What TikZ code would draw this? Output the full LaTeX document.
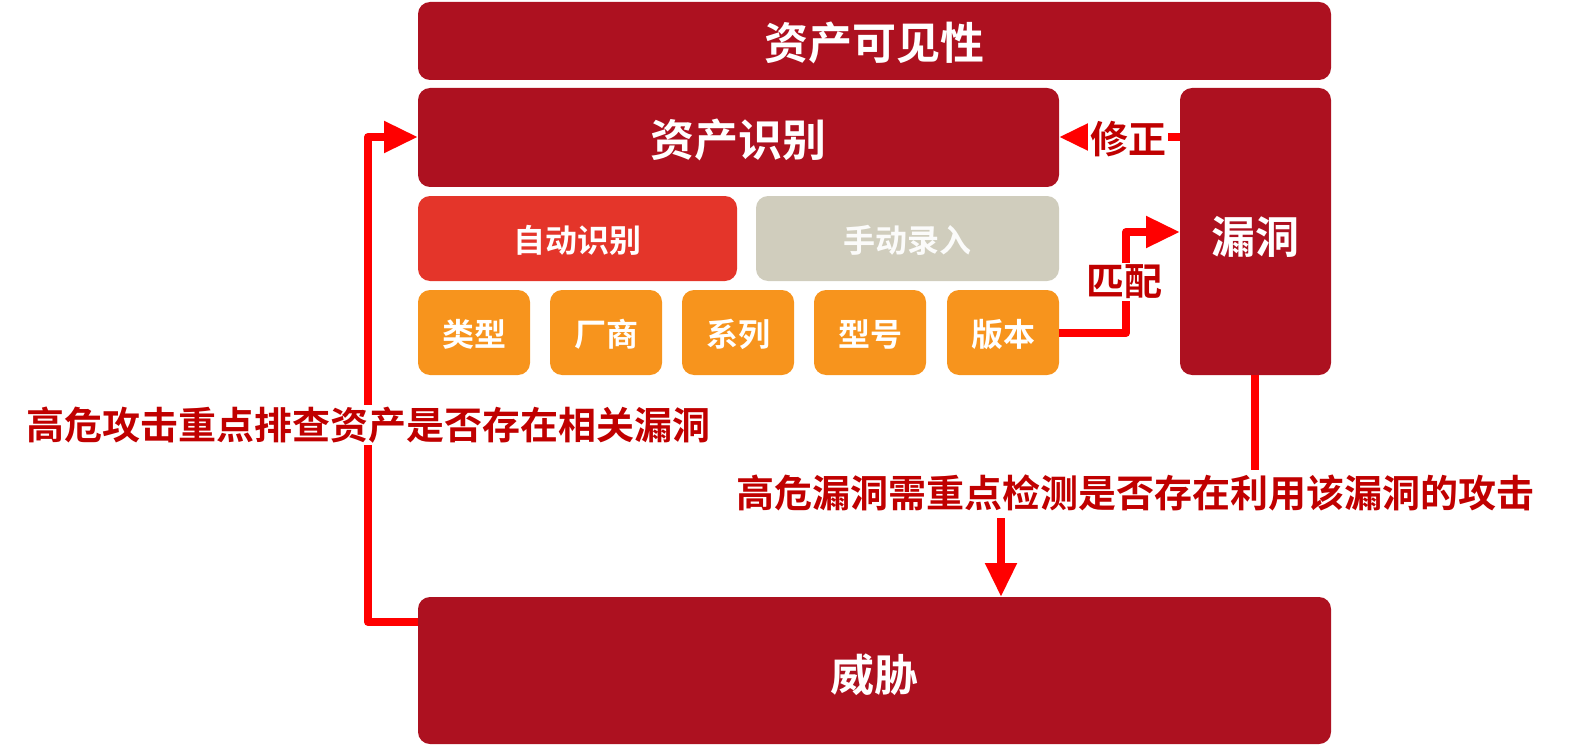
\documentclass[tikz,border=0pt]{standalone}
\usepackage{fontspec}
\setmainfont{Noto Sans CJK SC}[BoldFont={* Bold}]
\usetikzlibrary{arrows.meta}
\definecolor{dred}{HTML}{AD1120}
\definecolor{ared}{HTML}{E4352A}
\definecolor{gry}{HTML}{D0CDBD}
\definecolor{org}{HTML}{F7941D}
\definecolor{lred}{HTML}{C00000}
\definecolor{arr}{HTML}{FF0000}
\begin{document}
\begin{tikzpicture}[x=1pt,y=-1pt,
 box/.style={rounded corners=12pt,text=white,font=\bfseries},
 lab/.style={text=lred,font=\fontsize{38}{40}\selectfont\bfseries,fill=white,inner sep=2pt},
 ln/.style={draw=arr,line width=8pt},
 ar/.style={ln,-{Triangle[length=34pt,width=30pt]}}]
\useasboundingbox (0,0) rectangle (1570,746);
\fill[dred,rounded corners=12pt] (418,2) rectangle (1331,80);
\node[text=white,font=\fontsize{44}{46}\selectfont\bfseries] (vis) at (874.5,43) {资产可见性};
\fill[dred,rounded corners=12pt] (418,88) rectangle (1059,187);
\node[text=white,font=\fontsize{44}{46}\selectfont\bfseries] (ident) at (738.5,140) {资产识别};
\coordinate (identR) at (1059,137);
\coordinate (identL) at (418,137);
\fill[dred,rounded corners=12pt] (1180,88) rectangle (1331,375);
\node[text=white,font=\fontsize{44}{46}\selectfont\bfseries] (vuln) at (1255.5,237) {漏洞};
\coordinate (vulnL1) at (1180,137);
\coordinate (vulnL2) at (1180,232);
\coordinate (vulnB) at (1255,375);
\fill[ared,rounded corners=12pt] (418,196) rectangle (737,281);
\node[text=white,font=\fontsize{32}{34}\selectfont\bfseries] (auto) at (577.5,240) {自动识别};
\fill[gry,rounded corners=12pt] (756,196) rectangle (1059,281);
\node[text=white!92!gry,font=\fontsize{32}{34}\selectfont\bfseries] (man) at (907.5,240) {手动录入};
\foreach \a/\b/\t/\n in {418/530/类型/t1,550/662/厂商/t2,682/794/系列/t3,814/926/型号/t4,947/1059/版本/t5}{
 \fill[org,rounded corners=12pt] (\a,290) rectangle (\b,375);
 \node[text=white,font=\fontsize{32}{34}\selectfont\bfseries] (\n) at ({(\a+\b)/2},334) {\t};
}
\coordinate (verR) at (1059,333);
\fill[dred,rounded corners=12pt] (418,597) rectangle (1331,744);
\node[text=white,font=\fontsize{44}{46}\selectfont\bfseries] (threat) at (874.5,675) {威胁};
\coordinate (thrL) at (418,622);
\coordinate (thrT) at (1001,597);
% left loop
\draw[ar,line join=round] (thrL) -- (368,622) -- (368,137) -- (identL);
\node[lab] (l1) at (368,425) {高危攻击重点排查资产是否存在相关漏洞};
% correction
\draw[ar] (vulnL1) -- (identR);
\node[lab] (l2) at (1128,139) {修正};
% match
\draw[ar,line join=round] (verR) -- (1126,333) -- (1126,232) -- (vulnL2);
\node[lab] (l3) at (1124,282) {匹配};
% vuln to threat
\draw[ln] (vulnB) -- (1255,470);
\node[lab,fill=none] (l4) at (1135,493) {高危漏洞需重点检测是否存在利用该漏洞的攻击};
\coordinate (a0) at (1001,518);
\draw[ar] (a0) -- (thrT);
\end{tikzpicture}
\end{document}
